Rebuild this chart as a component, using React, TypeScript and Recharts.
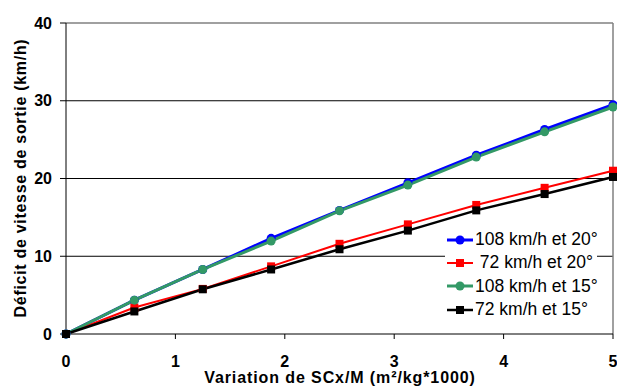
import { LineChart, Line, XAxis, YAxis, CartesianGrid, ReferenceLine, Legend } from 'recharts'

const xValues = [0, 0.625, 1.25, 1.875, 2.5, 3.125, 3.75, 4.375, 5]
const blue108at20 = [0, 4.35, 8.3, 12.3, 15.9, 19.45, 23.0, 26.3, 29.5]
const red72at20 = [0, 3.4, 5.8, 8.7, 11.6, 14.1, 16.6, 18.8, 21.0]
const green108at15 = [0, 4.35, 8.3, 11.95, 15.85, 19.15, 22.75, 26.0, 29.2]
const black72at15 = [0, 2.9, 5.75, 8.3, 10.9, 13.3, 15.9, 18.0, 20.2]
const xTicks = [0, 1, 2, 3, 4, 5]
const yTicks = [0, 10, 20, 30, 40]

const data = xValues.map((x, i) => ({
  x,
  b20: blue108at20[i],
  r20: red72at20[i],
  g15: green108at15[i],
  k15: black72at15[i],
}))

const series = [
  { key: 'b20', name: '108 km/h et 20°', color: '#0000ff', width: 3, shape: 'circle' },
  { key: 'r20', name: '\u00a072 km/h et 20°', color: '#ff0000', width: 2, shape: 'square' },
  { key: 'g15', name: '108 km/h et 15°', color: '#339966', width: 3, shape: 'circle' },
  { key: 'k15', name: '72 km/h et 15°', color: '#000000', width: 2.5, shape: 'square' },
]

const font = 'Arial, "Liberation Sans", sans-serif'

function makeDot(color: string, shape: string) {
  return (props: any) => {
    const { cx, cy, index } = props
    if (shape === 'square')
      return <rect key={`d-${index}`} x={cx - 4} y={cy - 4} width={8} height={8} fill={color} />
    return <circle key={`d-${index}`} cx={cx} cy={cy} r={4.5} fill={color} />
  }
}

function LegendBox() {
  return (
    <div style={{ background: '#fff', width: 152, padding: '2px 0', fontFamily: font, fontSize: 17.5 }}>
      {series.map(s => (
        <div key={s.key} style={{ display: 'flex', alignItems: 'center', height: 23.3 }}>
          <svg width={28} height={12} style={{ marginLeft: 2, flex: 'none' }}>
            <line x1={0} y1={6} x2={26} y2={6} stroke={s.color} strokeWidth={s.width} />
            {s.shape === 'square'
              ? <rect x={9} y={2} width={8} height={8} fill={s.color} />
              : <circle cx={13} cy={6} r={4.5} fill={s.color} />}
          </svg>
          <span style={{ color: '#000', whiteSpace: 'pre' }}>{s.name}</span>
        </div>
      ))}
    </div>
  )
}

const XTitle = () => (
  <text x={340} y={383} textAnchor="middle" fill="#000" fontSize={16} fontWeight="bold" fontFamily={font} letterSpacing={0.9}>
    Variation de SCx/M (m²/kg*1000)
  </text>
)

const YTitle = () => (
  <text x={26} y={178} transform="rotate(-90, 26, 178)" textAnchor="middle" fill="#000" fontSize={16} fontWeight="bold" fontFamily={font} letterSpacing={0.7}>
    Déficit de vitesse de sortie (km/h)
  </text>
)

export default function App() {
  return (
    <div style={{ position: 'absolute', left: 0, top: 0, background: '#fff' }}>
      <LineChart width={617} height={387} data={data} margin={{ top: 23, right: 4, left: 0, bottom: 0 }}>
        <CartesianGrid vertical={false} horizontalValues={[10, 20, 30]} stroke="#000" />
        <ReferenceLine y={40} stroke="#808080" strokeWidth={1.5} />
        <ReferenceLine x={5} stroke="#808080" strokeWidth={1.5} />
        <XAxis
          dataKey="x"
          type="number"
          domain={[0, 5]}
          ticks={xTicks}
          height={53}
          stroke="#000"
          tickSize={5}
          tickMargin={17}
          tick={{ fill: '#000', fontSize: 16, fontWeight: 'bold', fontFamily: font }}
          label={{ content: () => <XTitle /> }}
        />
        <YAxis
          type="number"
          domain={[0, 40]}
          ticks={yTicks}
          width={66}
          stroke="#000"
          tickSize={6}
          tickMargin={8}
          tick={{ fill: '#000', fontSize: 16, fontWeight: 'bold', fontFamily: font }}
          label={{ content: () => <YTitle /> }}
        />
        <Legend
          layout="vertical"
          align="center"
          verticalAlign="middle"
          content={() => <LegendBox />}
          wrapperStyle={{ left: 445, top: 226, width: 152, height: 96 }}
        />
        {series.map(s => (
          <Line
            key={s.key}
            dataKey={s.key}
            name={s.name}
            stroke={s.color}
            strokeWidth={s.width}
            dot={makeDot(s.color, s.shape)}
            activeDot={false}
            isAnimationActive={false}
          />
        ))}
      </LineChart>
    </div>
  )
}
